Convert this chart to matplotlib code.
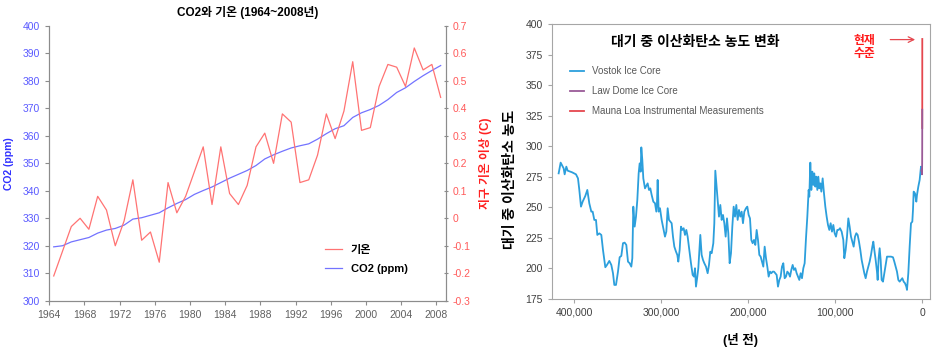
import matplotlib
matplotlib.use("Agg")
import matplotlib.pyplot as plt
from matplotlib.ticker import FuncFormatter

plt.rcParams['font.family'] = ['Liberation Sans', 'Noto Sans CJK KR']
plt.rcParams['axes.unicode_minus'] = False

# left chart data: CO2 (ppm) and temperature anomaly (C), 1964-2008
years = list(range(1964, 2009))
co2_ppm = [319.6, 320.0, 321.4, 322.2, 323.0, 324.6, 325.7, 326.3, 327.5, 329.7,
           330.2, 331.1, 332.0, 333.8, 335.4, 336.8, 338.7, 340.1, 341.4, 343.0,
           344.6, 346.0, 347.4, 349.2, 351.6, 353.1, 354.4, 355.6, 356.4, 357.1,
           358.8, 360.8, 362.6, 363.7, 366.7, 368.4, 369.6, 371.1, 373.2, 375.8,
           377.5, 379.8, 381.9, 383.8, 385.6]
temp_anom = [-0.21, -0.12, -0.03, 0.00, -0.04, 0.08, 0.03, -0.10, -0.01, 0.14,
             -0.08, -0.05, -0.16, 0.13, 0.02, 0.08, 0.17, 0.26, 0.05, 0.26,
             0.09, 0.05, 0.12, 0.26, 0.31, 0.20, 0.38, 0.35, 0.13, 0.14,
             0.23, 0.38, 0.29, 0.39, 0.57, 0.32, 0.33, 0.48, 0.56, 0.55,
             0.48, 0.62, 0.54, 0.56, 0.44]
temp_ticks = [-0.3, -0.2, -0.1, 0, 0.1, 0.2, 0.3, 0.4, 0.5, 0.6, 0.7]
temp_tick_labels = ['-0.3', '-0.2', '-0.1', '0', '0.1', '0.2', '0.3', '0.4', '0.5', '0.6', '0.7']

# right chart data: years before present vs CO2 (ppm)
vostok_age = [417960, 415660, 412210, 411060, 409150, 407610, 402630, 398040, 395740, 394200,
              392290, 390370, 387310, 385010, 382720, 380420, 378870, 376970, 375050, 373520,
              371220, 368920, 367000, 364320, 362410, 359730, 357430, 355510, 353980, 352060,
              349760, 347850, 345930, 344020, 342100, 340190, 338270, 336350, 334440, 333290,
              332140, 330600, 329070, 327540, 326000, 324850, 323700, 322950, 321800, 320650,
              318730, 315660, 314130, 312600, 311060, 309150, 307230, 305700, 304940, 304170,
              303020, 301490, 299570, 297660, 295740, 294210, 292670, 291140, 289610, 288080,
              286540, 285010, 283100, 281570, 280420, 278880, 277350, 275820, 274280, 272750,
              271220, 269690, 267770, 265860, 263940, 262410, 261260, 260110, 258580, 257430,
              255890, 255130, 253600, 252060, 250530, 248620, 246700, 245170, 243640, 242100,
              240190, 239040, 237890, 236740, 235200, 233670, 232140, 230610, 229070, 227540,
              226010, 224480, 222950, 221410, 219880, 218350, 216810, 215280, 213750, 212220,
              210690, 209150, 207620, 206090, 204560, 202640, 201110, 199570, 198040, 196510,
              194980, 193440, 191910, 190380, 188850, 187310, 185780, 184250, 182720, 181180,
              179650, 178120, 176590, 175050, 173520, 171990, 170450, 168920, 167390, 165860,
              164320, 162790, 161260, 159730, 158190, 156660, 155130, 153600, 152060, 150530,
              149000, 147470, 145940, 144400, 142870, 141340, 139800, 138270, 136740, 135210,
              133670, 132140, 130610, 129850, 128700, 127550, 126400, 125250, 124100, 122950,
              121800, 120650, 119500, 118350, 117200, 116050, 114520, 112990, 111460, 109920,
              108390, 106860, 105320, 103790, 102260, 100730, 99190, 97660, 96130, 94600,
              92680, 90770, 89620, 88080, 86550, 85020, 83480, 81950, 80420, 78890,
              77350, 75820, 74290, 72760, 71230, 69690, 68160, 66630, 65090, 63560,
              62030, 60500, 58960, 57430, 56280, 55130, 53600, 52070, 51300, 50150,
              49000, 47850, 46700, 45170, 43640, 42100, 40570, 39040, 35980, 33680,
              32150, 30610, 29080, 27550, 26010, 24480, 22950, 21420, 19880, 18350,
              17590, 16060, 14520, 12990, 11460, 10690, 9920, 8390, 6860, 6090,
              4560, 3030, 1490, 600]
vostok_co2 = [277.8, 286.6, 281.9, 277.0, 283.3, 280.0, 278.7, 277.0, 273.7, 264.2,
              250.5, 254.6, 259.3, 264.2, 253.2, 246.4, 246.4, 239.6, 239.6, 227.3,
              228.6, 227.3, 215.0, 200.8, 202.7, 206.0, 202.7, 195.9, 186.3, 186.3,
              197.2, 209.0, 210.1, 220.5, 221.0, 219.1, 205.4, 204.1, 201.3, 208.2,
              250.5, 234.1, 242.3, 256.0, 277.8, 286.0, 279.2, 299.1, 288.8, 273.7,
              265.5, 269.6, 264.2, 265.5, 260.1, 254.6, 253.3, 246.4, 253.3, 272.4,
              246.4, 249.2, 239.6, 232.8, 225.9, 230.0, 249.2, 239.6, 238.2, 236.9,
              225.9, 217.7, 213.6, 210.9, 205.4, 215.0, 234.1, 231.4, 232.8, 227.3,
              231.4, 225.9, 215.0, 204.1, 194.5, 193.1, 200.0, 184.9, 193.1, 200.0,
              217.7, 227.3, 210.9, 206.8, 204.1, 201.3, 195.9, 202.7, 213.6, 212.3,
              220.5, 236.9, 280.0, 269.6, 254.6, 242.3, 251.9, 239.6, 243.7, 236.9,
              225.9, 240.9, 228.7, 204.1, 212.3, 234.1, 250.5, 242.3, 251.9, 239.6,
              247.8, 242.3, 246.4, 236.9, 246.4, 249.2, 250.5, 243.7, 240.9, 223.2,
              220.5, 223.2, 219.1, 231.4, 223.2, 210.9, 209.5, 205.4, 201.3, 217.7,
              208.2, 201.3, 193.1, 197.2, 195.9, 197.2, 197.2, 195.9, 194.5, 184.9,
              190.4, 193.1, 201.3, 204.1, 191.8, 193.1, 197.2, 195.9, 193.1, 198.6,
              202.7, 198.6, 200.0, 195.9, 193.1, 190.4, 195.9, 191.8, 200.0, 204.1,
              224.6, 242.3, 264.2, 258.7, 286.6, 264.2, 279.2, 268.3, 277.8, 266.9,
              275.1, 264.2, 275.1, 265.5, 269.6, 262.8, 273.7, 261.4, 250.5, 242.3,
              235.5, 231.4, 236.9, 230.0, 235.5, 228.7, 225.9, 231.4, 231.4, 232.8,
              230.0, 223.2, 208.2, 215.0, 225.9, 240.9, 234.1, 225.9, 221.8, 217.7,
              225.9, 228.7, 227.3, 221.8, 215.0, 206.8, 201.3, 195.9, 191.8, 197.2,
              201.3, 205.4, 210.9, 217.7, 221.8, 215.0, 206.8, 197.2, 190.4, 208.2,
              216.4, 206.8, 190.4, 189.0, 195.9, 202.7, 209.5, 209.5, 209.5, 209.0,
              205.4, 201.3, 197.2, 190.4, 189.0, 190.4, 191.8, 189.0, 187.7, 184.9,
              182.2, 195.9, 217.7, 236.9, 238.2, 247.8, 262.8, 261.4, 254.6, 260.1,
              266.9, 272.4, 283.3, 278.0]
lawdome_age = [1000, 600, 300, 200, 150, 100, 60, 30]
lawdome_co2 = [280, 281, 277, 284, 287, 296, 311, 330]
maunaloa_age = [50, 40, 30, 20, 10, 0]
maunaloa_co2 = [315, 325, 338, 354, 370, 388]

fig = plt.figure(figsize=(9.43, 3.54), dpi=100)

# ---- left chart ----
ax1 = fig.add_axes([0.0523, 0.1506, 0.4206, 0.776])
ax2 = ax1.twinx()
xpos = [y + 0.5 for y in years]
l_co2, = ax1.plot(xpos, co2_ppm, color='#7373FF', lw=0.9, label='CO2 (ppm)')
l_temp, = ax2.plot(xpos, temp_anom, color='#FF7373', lw=0.9, label='기온')

ax1.set_xlim(1964, 2009.1)
ax1.set_ylim(300, 400)
ax1.set_xticks(range(1964, 2009, 4))
ax1.set_yticks(range(300, 401, 10))
ax2.set_ylim(-0.3, 0.7)
ax2.set_yticks(temp_ticks)
ax2.set_yticklabels(temp_tick_labels)

gray = '#8C8C8C'
for a in (ax1, ax2):
    a.spines['top'].set_visible(False)
    for s in ('left', 'right', 'bottom'):
        a.spines[s].set_color(gray)
ax1.tick_params(axis='x', colors=gray, labelcolor='#606060', labelsize=7.5, length=3)
ax1.tick_params(axis='y', colors=gray, labelcolor='#5A5AFF', labelsize=7.5, length=3)
ax2.tick_params(axis='y', colors=gray, labelcolor='#FF5A5A', labelsize=7.5, length=3,
                direction='inout')

ax1.set_ylabel('CO2 (ppm)', color='#3030FF', fontsize=7.5, fontweight='bold')
ax1.yaxis.set_label_coords(-0.09, 0.5)
ax2.set_ylabel('지구 기온 이상 (C)', color='#FF2020', fontsize=8.5, fontweight='bold')
ax2.yaxis.set_label_coords(1.083, 0.5)
ax1.set_title('CO2와 기온 (1964~2008년)', fontsize=8.5, fontweight='bold', pad=7)

ax1.legend([l_temp, l_co2], ['기온', 'CO2 (ppm)'], loc='upper left',
           bbox_to_anchor=(0.67, 0.24), frameon=False, handlelength=1.5,
           prop={'weight': 'bold', 'size': 8}, labelspacing=0.85)

# ---- right chart ----
ax = fig.add_axes([0.585, 0.1562, 0.4012, 0.775])
ax.plot(vostok_age, vostok_co2, color='#2C9FDC', lw=1.3, label='Vostok Ice Core')
ax.plot(maunaloa_age, maunaloa_co2, color='#E5474E', lw=1.3, zorder=2)
ax.plot(lawdome_age, lawdome_co2, color='#9A5A97', lw=1.3, label='Law Dome Ice Core', zorder=3)
ax.plot([], [], color='#E5474E', lw=1.3, label='Mauna Loa Instrumental Measurements')

ax.set_xlim(426000, -8850)
ax.set_ylim(175, 400)
ax.set_xticks([400000, 300000, 200000, 100000, 0])
ax.xaxis.set_major_formatter(FuncFormatter(lambda v, p: f'{int(v):,}'))
ax.set_yticks(range(175, 401, 25))
for s in ax.spines.values():
    s.set_color('#A6A6A6')
ax.tick_params(colors='#A6A6A6', labelcolor='#404040', labelsize=7.5, length=3)

ax.set_ylabel('대기 중 이산화탄소 농도', fontsize=10, fontweight='bold')
ax.yaxis.set_label_coords(-0.092, 0.436)
ax.set_xlabel('(년 전)', fontsize=9, fontweight='bold')
ax.xaxis.set_label_coords(0.5, -0.125)
ax.text(0.38, 0.935, '대기 중 이산화탄소 농도 변화', transform=ax.transAxes,
        ha='center', va='center', fontsize=10, fontweight='bold')

leg = ax.legend(loc='upper left', bbox_to_anchor=(0.025, 0.88), frameon=False,
                handlelength=1.5, fontsize=7, labelspacing=1.05)
for t in leg.get_texts():
    t.set_color('#595959')

ax.text(66000, 381, '현재\n수준', color='#FF1A1A', fontsize=8.5, fontweight='bold',
        ha='center', va='center', linespacing=1.1)
ax.annotate('', xy=(5000, 387.5), xytext=(40000, 387.5),
            arrowprops=dict(arrowstyle='->', color='#E5474E', lw=0.9))

fig.savefig('out.png', dpi=100)
